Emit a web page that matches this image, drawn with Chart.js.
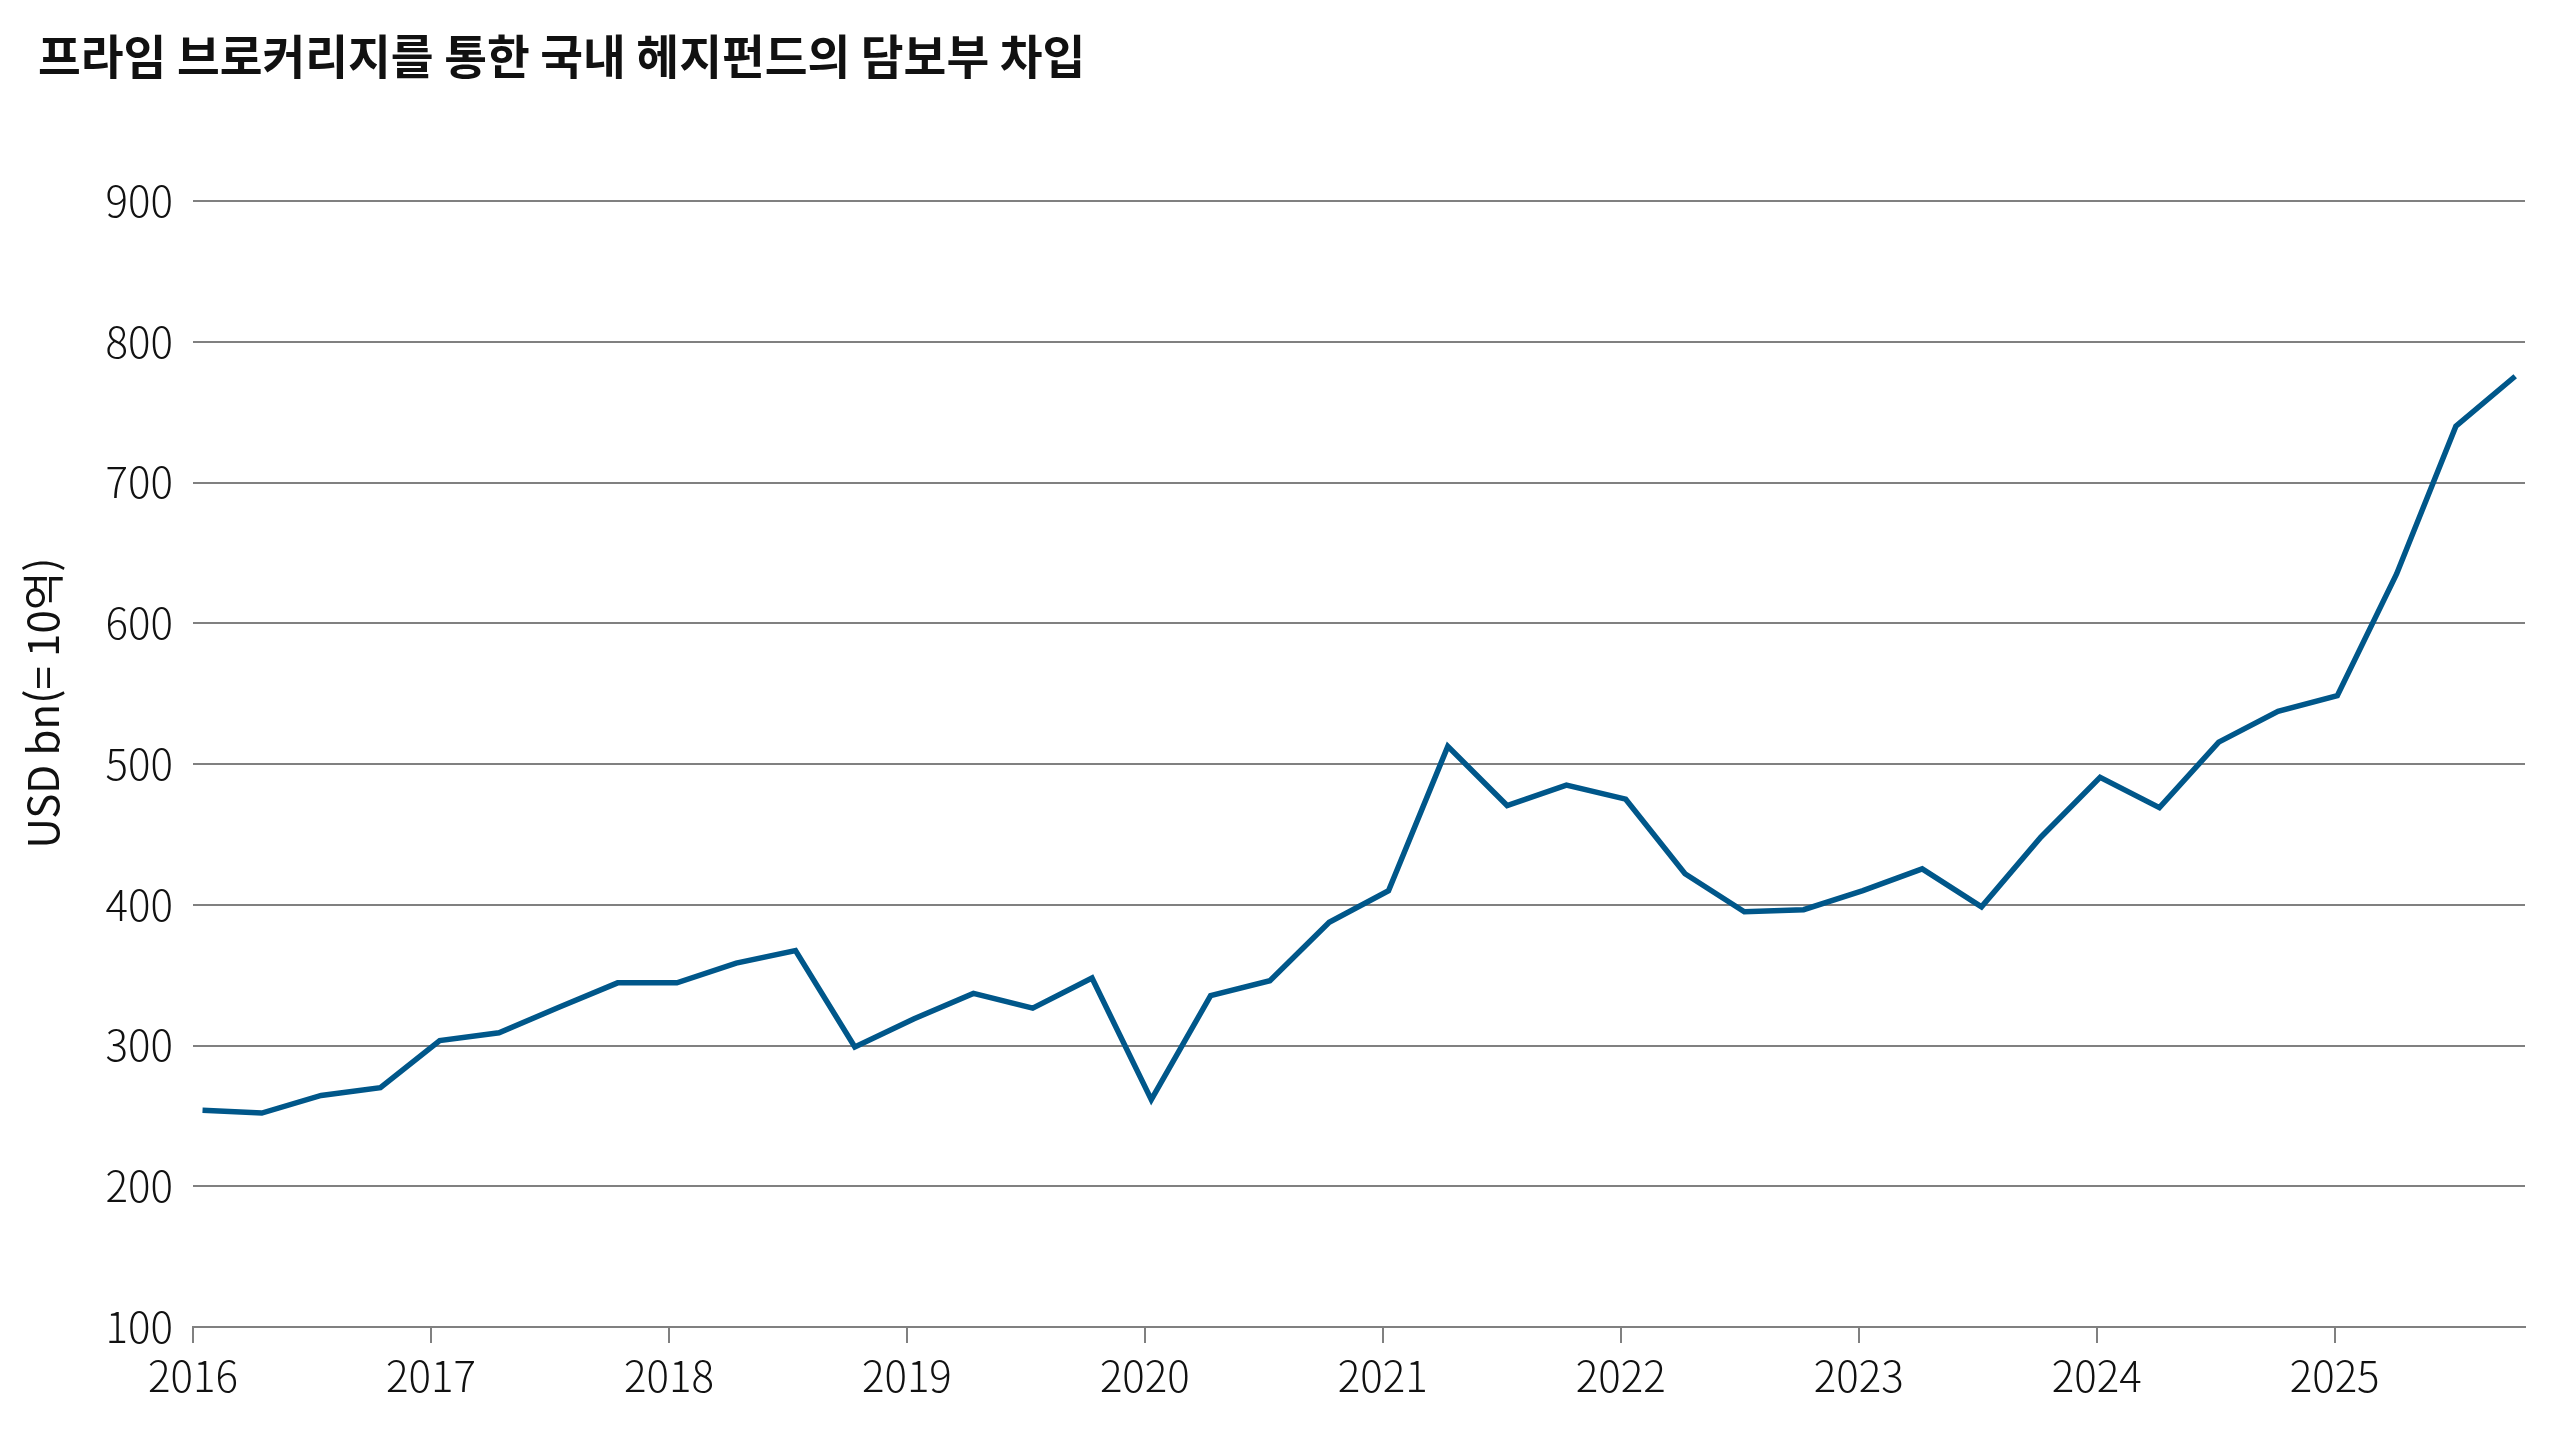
<!DOCTYPE html>
<html lang="ko">
<head>
<meta charset="utf-8">
<script src="https://cdn.jsdelivr.net/npm/chart.js@4"></script>
<style>
	html, body { margin: 0; padding: 0; background: #ffffff; }
	#wrap { width: 2560px; height: 1440px; position: relative; }
</style>
</head>
<body>
<div id="wrap"><canvas id="main_chart"></canvas></div>
<script>
const chartTitle = "프라임 브로커리지를 통한 국내 헤지펀드의 담보부 차입";
const axisTitle = "USD bn(= 10억)";

// quarterly values, 2016 to 2025 (USD bn)
const borrowing = [
	254, 252, 264.5, 270,
	303.5, 309, 327, 344.5,
	344.5, 358.5, 367.5, 299,
	319, 337, 326.5, 348,
	261.5, 335.5, 346, 387.5,
	410, 512.5, 470.5, 485,
	475, 422, 395, 396.5,
	410, 425.5, 398.5, 448,
	490.5, 469, 515.5, 537.5,
	548.5, 635, 740, 775.5
];
const yearTicks = [2016, 2017, 2018, 2019, 2020, 2021, 2022, 2023, 2024, 2025];
const firstPoint = 2016.04;
const quarterStep = 0.2492;

const lineColor = "#00578a";
const gridColor = "#808080";
const fontName = '"Noto Sans CJK KR", "Noto Sans", sans-serif';

const points = borrowing.map((v, i) => ({ x: firstPoint + i * quarterStep, y: v }));

// chart title and y axis title are drawn at fixed spots
const textPlugin = {
	id: 'fixedTexts',
	afterDraw(chart) {
		const c = chart.ctx;
		c.save();
		c.font = 'bold 46.5px ' + fontName;
		c.fillStyle = '#111111';
		c.textBaseline = 'middle';
		c.textAlign = 'left';
		c.fillText(chartTitle, 38, 56);

		c.translate(43, 703);
		c.rotate(-Math.PI / 2);
		c.font = '400 42px ' + fontName;
		c.textAlign = 'center';
		c.fillText(axisTitle, 0, 0);
		c.restore();
	}
};

new Chart(document.getElementById('main_chart'), {
	type: 'line',
	data: {
		datasets: [{
			data: points,
			borderColor: lineColor,
			borderWidth: 5.5,
			pointRadius: 0,
			tension: 0,
			fill: false,
		}]
	},
	plugins: [textPlugin],
	options: {
		responsive: true,
		maintainAspectRatio: false,
		devicePixelRatio: 1,
		animation: false,
		layout: {
			padding: { top: 201, right: 35, left: 0, bottom: 0 }
		},
		plugins: {
			legend: { display: false },
			tooltip: { enabled: false },
			title: { display: false },
		},
		scales: {
			x: {
				type: 'linear',
				min: 2016,
				max: 2025.8,
				afterBuildTicks: (scale) => {
					scale.ticks = yearTicks.map(v => ({ value: v }));
				},
				afterFit: (scale) => { scale.height = 113; },
				grid: {
					drawOnChartArea: false,
					drawTicks: true,
					tickLength: 16,
					color: gridColor,
					lineWidth: 2,
				},
				border: { display: true, color: gridColor, width: 2 },
				ticks: {
					color: '#111111',
					padding: 8,
					maxRotation: 0,
					autoSkip: false,
					font: { family: fontName, size: 42, weight: 300 },
					callback: (v) => String(v),
				},
			},
			y: {
				min: 100,
				max: 900,
				afterFit: (scale) => { scale.width = 193; },
				grid: {
					color: gridColor,
					lineWidth: 2,
					drawTicks: false,
				},
				border: { display: false },
				ticks: {
					stepSize: 100,
					color: '#111111',
					padding: 20,
					font: { family: fontName, size: 42, weight: 300 },
				},
			},
		},
	}
});
</script>
</body>
</html>
